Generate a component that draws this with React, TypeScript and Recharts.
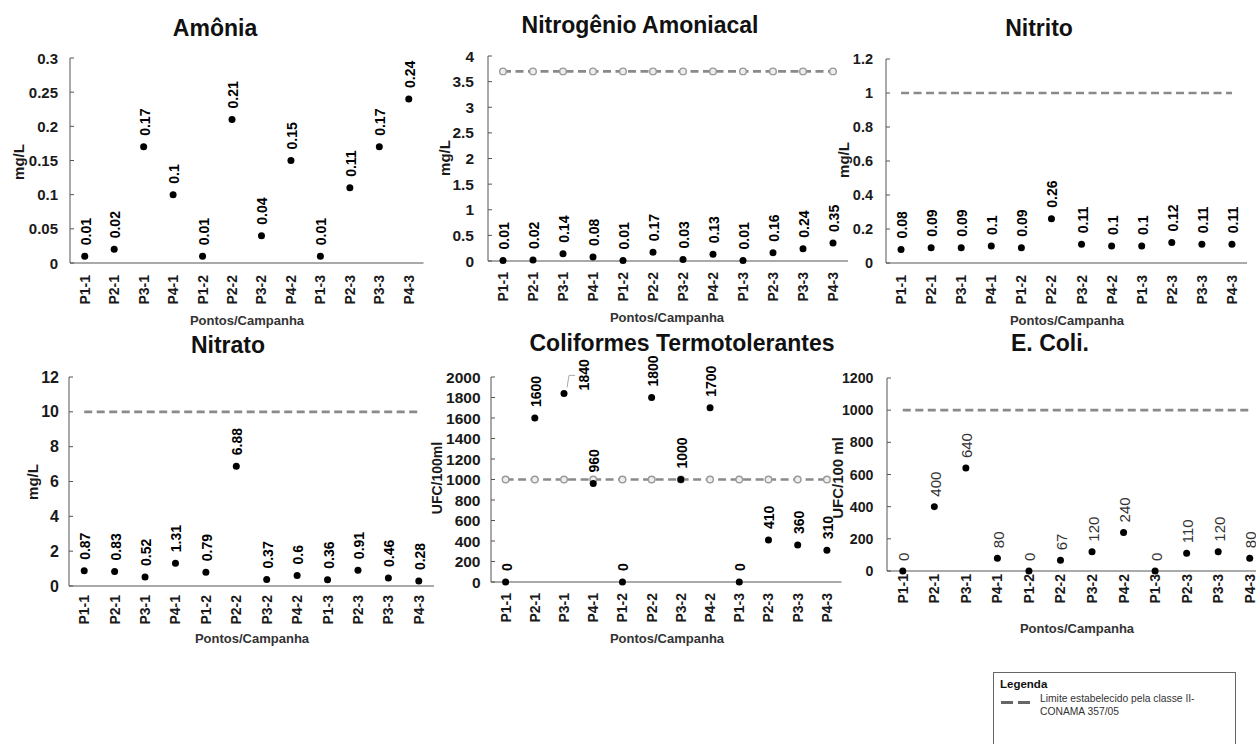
import React from 'react';
import { ComposedChart, Line, XAxis, YAxis, LabelList } from 'recharts';

const categories = ['P1-1', 'P2-1', 'P3-1', 'P4-1', 'P1-2', 'P2-2', 'P3-2', 'P4-2', 'P1-3', 'P2-3', 'P3-3', 'P4-3'];

const amonia = [0.01, 0.02, 0.17, 0.1, 0.01, 0.21, 0.04, 0.15, 0.01, 0.11, 0.17, 0.24];
const nitrogenioAmoniacal = [0.01, 0.02, 0.14, 0.08, 0.01, 0.17, 0.03, 0.13, 0.01, 0.16, 0.24, 0.35];
const nitrito = [0.08, 0.09, 0.09, 0.1, 0.09, 0.26, 0.11, 0.1, 0.1, 0.12, 0.11, 0.11];
const nitrato = [0.87, 0.83, 0.52, 1.31, 0.79, 6.88, 0.37, 0.6, 0.36, 0.91, 0.46, 0.28];
const coliformes = [0, 1600, 1840, 960, 0, 1800, 1000, 1700, 0, 410, 360, 310];
const eColi = [0, 400, 640, 80, 0, 67, 120, 240, 0, 110, 120, 80];

const limitNitrogenio = 3.7;
const limitNitrito = 1;
const limitNitrato = 10;
const limitColiformes = 1000;
const limitEColi = 1000;

const amoniaTicks = [0, 0.05, 0.1, 0.15, 0.2, 0.25, 0.3];
const nitrogenioTicks = [0, 0.5, 1, 1.5, 2, 2.5, 3, 3.5, 4];
const nitritoTicks = [0, 0.2, 0.4, 0.6, 0.8, 1, 1.2];
const nitratoTicks = [0, 2, 4, 6, 8, 10, 12];
const coliformesTicks = [0, 200, 400, 600, 800, 1000, 1200, 1400, 1600, 1800, 2000];
const eColiTicks = [0, 200, 400, 600, 800, 1000, 1200];

const FONT = '"Liberation Sans", Arial, Helvetica, sans-serif';
const AXIS = '#555';
const YW = 70;
const MT = 60;
const XH = 60;
const MR = 12;

type PanelProps = {
  axisX: number;
  right: number;
  top: number;
  bottom: number;
  values: number[];
  ticks: number[];
  limit?: number;
  limitDots?: boolean;
  yTickFont: number;
  yTickGap: number;
  xTickGap: number;
  labelFont: number;
  labelWeight: string;
  labelColor: string;
  labelGap: number;
  leaderIndex?: number;
};

const XTick = (props: any) => {
  const { x, y, payload, gap } = props;
  return (
    <text
      transform={`translate(${x},${y + gap}) rotate(-90)`}
      textAnchor="end"
      dominantBaseline="central"
      fontSize={14}
      fontWeight="bold"
      fontFamily={FONT}
      fill="#1a1a1a"
    >
      {payload.value}
    </text>
  );
};

const YTick = (props: any) => {
  const { x, y, payload, gap, fontSize } = props;
  return (
    <g>
      <line x1={x} x2={x + 4} y1={y} y2={y} stroke={AXIS} strokeWidth={1} />
      <text
        x={x - gap}
        y={y}
        textAnchor="end"
        dominantBaseline="central"
        fontSize={fontSize}
        fontWeight="bold"
        fontFamily={FONT}
        fill="#1a1a1a"
      >
        {String(payload.value)}
      </text>
    </g>
  );
};

function renderLabel(lp: any, p: PanelProps) {
  const vb = lp.viewBox || {};
  const x = vb.x != null ? vb.x + (vb.width || 0) / 2 : lp.x;
  const y = vb.y != null ? vb.y + (vb.height || 0) / 2 : lp.y;
  if (x == null || y == null) return null;
  const text = String(lp.value);
  const common = {
    textAnchor: 'start' as const,
    dominantBaseline: 'central' as const,
    fontSize: p.labelFont,
    fontWeight: p.labelWeight,
    fontFamily: FONT,
    fill: p.labelColor,
  };
  if (p.leaderIndex !== undefined && lp.index === p.leaderIndex) {
    return (
      <g>
        <polyline
          points={`${x + 3},${y - 6} ${x + 5},${y - 18} ${x + 11},${y - 18}`}
          fill="none"
          stroke="#aaa"
          strokeWidth={1}
        />
        <text transform={`translate(${x + 20},${y - 3}) rotate(-90)`} {...common}>
          {text}
        </text>
      </g>
    );
  }
  return (
    <text transform={`translate(${x + 1},${y - p.labelGap}) rotate(-90)`} {...common}>
      {text}
    </text>
  );
}

function Panel(p: PanelProps) {
  const rows = categories.map((c, i) => ({ cat: c, v: p.values[i], limit: p.limit }));
  const plotW = p.right - p.axisX;
  const band = plotW / categories.length;
  const width = YW + plotW + MR;
  const height = MT + (p.bottom - p.top) + XH;
  const max = p.ticks[p.ticks.length - 1];
  return (
    <div style={{ position: 'absolute', left: p.axisX - YW, top: p.top - MT }}>
      <ComposedChart width={width} height={height} data={rows} margin={{ top: MT, right: MR, bottom: 0, left: 0 }}>
        <XAxis
          dataKey="cat"
          type="category"
          scale="point"
          padding={{ left: band / 2, right: band / 2 }}
          height={XH}
          interval={0}
          tickLine={false}
          tickSize={0}
          tickMargin={0}
          axisLine={{ stroke: AXIS, strokeWidth: 1 }}
          tick={(t: any) => <XTick {...t} gap={p.xTickGap} />}
        />
        <YAxis
          type="number"
          domain={[0, max]}
          ticks={p.ticks}
          width={YW}
          interval={0}
          tickLine={false}
          tickSize={0}
          tickMargin={0}
          axisLine={{ stroke: AXIS, strokeWidth: 1 }}
          tick={(t: any) => <YTick {...t} gap={p.yTickGap} fontSize={p.yTickFont} />}
        />
        {p.limit !== undefined && (
          <Line
            dataKey="limit"
            stroke="#8a8a8a"
            strokeWidth={2.6}
            strokeDasharray="8 4.5"
            dot={
              p.limitDots
                ? { r: 3.3, fill: '#eeeeee', stroke: '#9a9a9a', strokeWidth: 1.4, strokeDasharray: 'none' }
                : false
            }
            activeDot={false}
            isAnimationActive={false}
          />
        )}
        <Line
          dataKey="v"
          stroke="none"
          dot={{ r: 3.5, fill: '#000', stroke: 'none' }}
          activeDot={false}
          isAnimationActive={false}
        >
          <LabelList dataKey="v" content={(lp: any) => renderLabel(lp, p)} />
        </Line>
      </ComposedChart>
    </div>
  );
}

const Title = ({ text, cx, cy }: { text: string; cx: number; cy: number }) => (
  <div
    style={{
      position: 'absolute',
      left: cx - 250,
      width: 500,
      top: cy - 0.49 * 23,
      height: 23,
      lineHeight: '23px',
      textAlign: 'center',
      fontFamily: FONT,
      fontWeight: 'bold',
      fontSize: 23,
      color: '#111',
      whiteSpace: 'nowrap',
    }}
  >
    {text}
  </div>
);

const XLabel = ({ cx, cy }: { cx: number; cy: number }) => (
  <div
    style={{
      position: 'absolute',
      left: cx - 100,
      width: 200,
      top: cy - 0.49 * 13,
      height: 13,
      lineHeight: '13px',
      textAlign: 'center',
      fontFamily: FONT,
      fontWeight: 'bold',
      fontSize: 13,
      color: '#333',
      whiteSpace: 'nowrap',
    }}
  >
    Pontos/Campanha
  </div>
);

const YLabel = ({ text, cx, cy, size }: { text: string; cx: number; cy: number; size: number }) => (
  <div
    style={{
      position: 'absolute',
      left: cx,
      top: cy,
      transform: 'translate(-50%, -50%) rotate(-90deg)',
      fontFamily: FONT,
      fontWeight: 'bold',
      fontSize: size,
      lineHeight: `${size}px`,
      color: '#1a1a1a',
      whiteSpace: 'nowrap',
    }}
  >
    {text}
  </div>
);

const boldLabel = { labelFont: 14, labelWeight: 'bold', labelColor: '#000', labelGap: 11 };

export default function App() {
  return (
    <div
      style={{
        position: 'absolute',
        left: 0,
        top: 0,
        width: 1256,
        height: 744,
        overflow: 'hidden',
        background: '#fff',
      }}
    >
      <Panel axisX={70} right={423.5} top={58} bottom={263} values={amonia} ticks={amoniaTicks}
        yTickFont={15} yTickGap={12} xTickGap={12} {...boldLabel} />
      <Panel axisX={488} right={848} top={56} bottom={261} values={nitrogenioAmoniacal} ticks={nitrogenioTicks}
        limit={limitNitrogenio} limitDots yTickFont={15.5} yTickGap={14} xTickGap={11} {...boldLabel} />
      <Panel axisX={886} right={1247} top={59} bottom={263} values={nitrito} ticks={nitritoTicks}
        limit={limitNitrito} yTickFont={14.5} yTickGap={13} xTickGap={12} {...boldLabel} />
      <Panel axisX={69} right={434} top={377} bottom={586} values={nitrato} ticks={nitratoTicks}
        limit={limitNitrato} yTickFont={16} yTickGap={10} xTickGap={9} {...boldLabel} />
      <Panel axisX={490.5} right={841} top={377} bottom={582} values={coliformes} ticks={coliformesTicks}
        limit={limitColiformes} limitDots yTickFont={15.5} yTickGap={10.5} xTickGap={11} {...boldLabel}
        leaderIndex={2} />
      <Panel axisX={886.5} right={1265} top={378} bottom={571} values={eColi} ticks={eColiTicks}
        limit={limitEColi} yTickFont={14.2} yTickGap={13.5} xTickGap={3}
        labelFont={15} labelWeight="normal" labelColor="#333" labelGap={10} />

      <Title text="Amônia" cx={215} cy={28} />
      <Title text="Nitrogênio Amoniacal" cx={640} cy={25} />
      <Title text="Nitrito" cx={1039} cy={28} />
      <Title text="Nitrato" cx={228} cy={345} />
      <Title text="Coliformes Termotolerantes" cx={682} cy={343} />
      <Title text="E. Coli." cx={1050} cy={343} />

      <XLabel cx={247} cy={320} />
      <XLabel cx={667} cy={317} />
      <XLabel cx={1067} cy={320} />
      <XLabel cx={252} cy={638} />
      <XLabel cx={667} cy={638} />
      <XLabel cx={1077} cy={628} />

      <YLabel text="mg/L" cx={18} cy={162} size={15} />
      <YLabel text="mg/L" cx={444} cy={158} size={15} />
      <YLabel text="mg/L" cx={843} cy={160} size={15} />
      <YLabel text="mg/L" cx={32} cy={482} size={15} />
      <YLabel text="UFC/100ml" cx={437} cy={478} size={14} />
      <YLabel text="UFC/100 ml" cx={837} cy={478} size={15} />

      <div
        style={{
          position: 'absolute',
          left: 993,
          top: 672,
          width: 243,
          height: 90,
          border: '1px solid #666',
          boxSizing: 'border-box',
          fontFamily: FONT,
        }}
      >
        <div
          style={{
            position: 'absolute',
            left: 6,
            top: 5,
            fontSize: 11.5,
            lineHeight: '12px',
            fontWeight: 'bold',
            color: '#111',
          }}
        >
          Legenda
        </div>
        <div style={{ position: 'absolute', left: 7, top: 28, width: 12, height: 2.5, background: '#666' }} />
        <div style={{ position: 'absolute', left: 24, top: 28, width: 12, height: 2.5, background: '#666' }} />
        <div
          style={{
            position: 'absolute',
            left: 46,
            top: 19,
            fontSize: 10.3,
            lineHeight: '13px',
            color: '#333',
            whiteSpace: 'nowrap',
          }}
        >
          Limite estabelecido pela classe II-
          <br />
          CONAMA 357/05
        </div>
      </div>
    </div>
  );
}
